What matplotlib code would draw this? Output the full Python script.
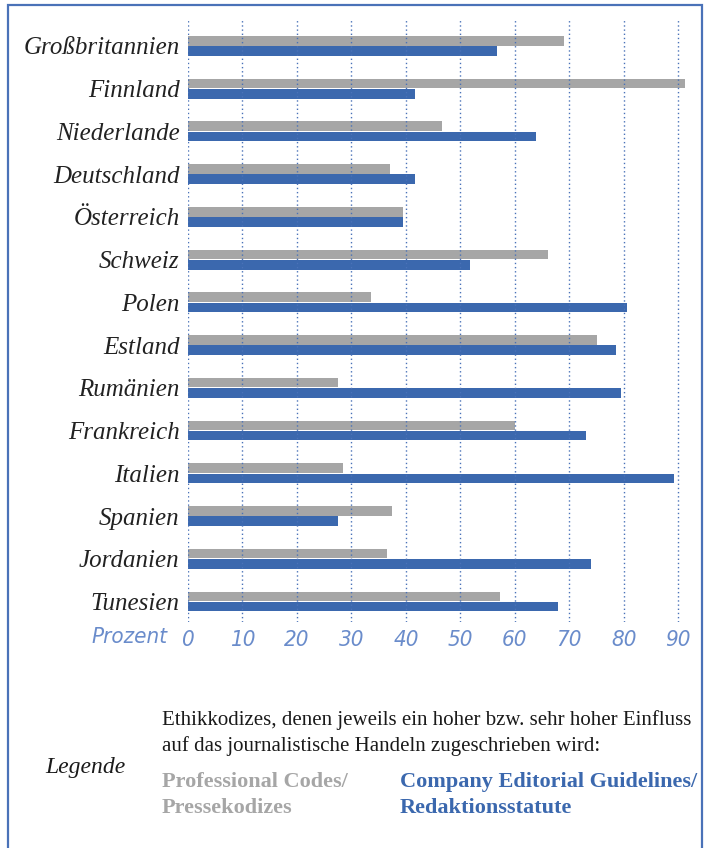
import numpy as np
import matplotlib.pyplot as plt
from matplotlib.patches import Rectangle

# Daten (Prozent, hoher / sehr hoher Einfluss)
laender = ["Großbritannien", "Finnland", "Niederlande", "Deutschland", "Österreich",
           "Schweiz", "Polen", "Estland", "Rumänien", "Frankreich", "Italien",
           "Spanien", "Jordanien", "Tunesien"]
pressekodizes = [69, 91.2, 46.6, 37, 39.5, 66, 33.5, 75, 27.5, 60, 28.4, 37.5, 36.6, 57.3]
redaktionsstatute = [56.8, 41.7, 63.9, 41.7, 39.5, 51.7, 80.6, 78.6, 79.5, 73, 89.2, 27.5, 73.9, 67.9]
ticks = [0, 10, 20, 30, 40, 50, 60, 70, 80, 90]

grau = "#a6a6a6"
blau = "#3b68ae"
hellblau = "#6a8ccb"
rahmen = "#4a72b8"

W, H = 707, 848
fig = plt.figure(figsize=(W / 100, H / 100), dpi=100)

x0, x90 = 188, 678.3
top, bot = 19, 622
px_per = (x90 - x0) / 90
ax = fig.add_axes([x0 / W, 1 - bot / H, (92 * px_per) / W, (bot - top) / H])

y = np.arange(len(laender))
h = 0.225
ax.barh(y - 0.12, pressekodizes, height=h, color=grau, zorder=2)
ax.barh(y + 0.12, redaktionsstatute, height=h, color=blau, zorder=2)

ax.set_xlim(0, 92)
ax.set_ylim(13.48, -0.63)
for t in ticks:
    ax.axvline(t, color=rahmen, lw=1.0, ls=(0, (1, 2)), zorder=3)

ax.set_yticks(y)
ax.set_yticklabels(laender, family="Liberation Serif", style="italic", fontsize=18, color="#222222")
ax.set_xticks(ticks)
ax.set_xticklabels([str(t) for t in ticks], family="DejaVu Sans", stretch="condensed",
                   style="italic", fontsize=16, color=hellblau)
ax.tick_params(length=0, pad=6)
ax.tick_params(axis="y", pad=6)
for s in ax.spines.values():
    s.set_visible(False)

fig.text(168 / W, 1 - 637 / H, "Prozent", ha="right", va="center",
         family="DejaVu Sans", stretch="condensed", style="italic", fontsize=16, color=hellblau)

# Legende
fig.text(162 / W, 1 - 720 / H, "Ethikkodizes, denen jeweils ein hoher bzw. sehr hoher Einfluss",
         ha="left", va="center", family="Liberation Serif", fontsize=15, color="#1a1a1a")
fig.text(162 / W, 1 - 746 / H, "auf das journalistische Handeln zugeschrieben wird:",
         ha="left", va="center", family="Liberation Serif", fontsize=15, color="#1a1a1a")
fig.text(45 / W, 1 - 768 / H, "Legende", ha="left", va="center",
         family="Liberation Serif", style="italic", fontsize=17, color="#1a1a1a")
fig.text(162 / W, 1 - 795 / H, "Professional Codes/\nPressekodizes", ha="left", va="center",
         family="Liberation Serif", weight="bold", fontsize=16, color=grau, linespacing=1.38)
fig.text(400 / W, 1 - 795 / H, "Company Editorial Guidelines/\nRedaktionsstatute", ha="left", va="center",
         family="Liberation Serif", weight="bold", fontsize=16, color=blau, linespacing=1.38)

# Rahmen
fig.patches.append(Rectangle((7.5 / W, -0.05), (702 - 7.5) / W, 1.05 - 4.5 / H,
                             transform=fig.transFigure, fill=False, edgecolor=rahmen, lw=1.6))

fig.savefig("out.png", dpi=100)
